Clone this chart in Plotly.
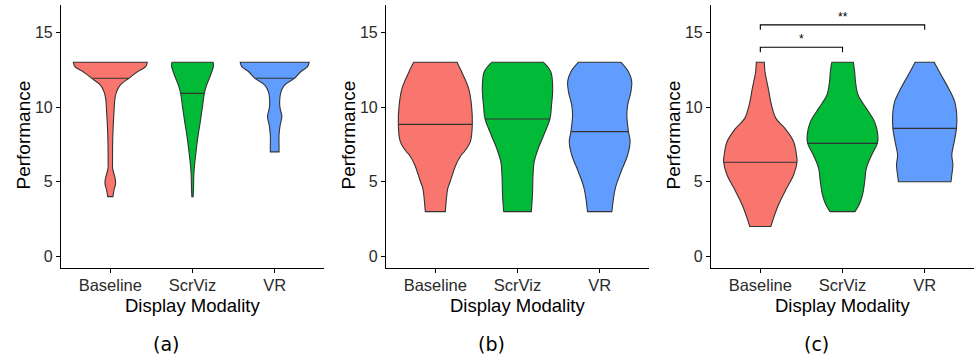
import numpy as np
import plotly.graph_objects as go

CATEGORIES = ["Baseline", "ScrViz", "VR"]
COLORS = ["#F8766D", "#00BA38", "#619CFF"]
Y_TICKS = [0, 5, 10, 15]
PANEL_LABELS = ["(a)", "(b)", "(c)"]
X_TITLE = "Display Modality"
Y_TITLE = "Performance"

# ---- Panel (a): violin density profiles (performance level -> half width, category units)
A_BASELINE_Y = [4.0, 4.44, 4.89, 5.22, 5.89, 6.34, 7.46, 8.57, 9.69, 10.58, 11.03, 11.47, 11.92, 12.36, 12.7, 13.0]
A_BASELINE_W = [0.032, 0.045, 0.065, 0.059, 0.028, 0.027, 0.028, 0.034, 0.045, 0.057, 0.077, 0.12, 0.225, 0.33, 0.43, 0.45]
A_SCRVIZ_Y = [4.0, 4.56, 5.67, 6.79, 7.9, 9.02, 10.13, 10.91, 11.47, 12.14, 12.75, 13.0]
A_SCRVIZ_W = [0.008, 0.012, 0.018, 0.0385, 0.063, 0.095, 0.124, 0.144, 0.172, 0.22, 0.255, 0.25]
A_VR_Y = [7.0, 7.46, 8.13, 8.8, 9.35, 9.91, 10.36, 11.03, 11.47, 11.92, 12.36, 12.7, 13.0]
A_VR_W = [0.053, 0.053, 0.053, 0.067, 0.087, 0.066, 0.06, 0.077, 0.12, 0.24, 0.316, 0.40, 0.42]
A_MEDIANS = [11.92, 10.91, 11.92]

# ---- Panel (b)
B_BASELINE_Y = [3.0, 3.67, 4.56, 5.0, 6.12, 6.79, 6.99, 7.68, 8.84, 10.13, 11.25, 12.36, 13.0]
B_BASELINE_W = [0.122, 0.132, 0.152, 0.18, 0.25, 0.316, 0.35, 0.426, 0.45, 0.44, 0.405, 0.32, 0.264]
B_SCRVIZ_Y = [3.0, 4.11, 5.45, 6.34, 7.23, 8.13, 9.2, 10.13, 11.25, 12.36, 13.0]
B_SCRVIZ_W = [0.168, 0.182, 0.189, 0.203, 0.253, 0.32, 0.395, 0.414, 0.428, 0.405, 0.314]
B_VR_Y = [3.0, 4.56, 5.67, 6.79, 7.68, 8.35, 9.46, 10.13, 11.03, 11.7, 12.36, 13.0]
B_VR_W = [0.148, 0.19, 0.26, 0.34, 0.37, 0.35, 0.33, 0.34, 0.38, 0.39, 0.35, 0.258]
B_MEDIANS = [8.84, 9.2, 8.35]

# ---- Panel (c)
C_BASELINE_Y = [2.0, 2.55, 3.44, 4.56, 5.45, 6.3, 6.79, 7.68, 8.57, 9.24, 10.13, 11.25, 12.36, 13.0]
C_BASELINE_W = [0.128, 0.16, 0.22, 0.32, 0.405, 0.446, 0.44, 0.405, 0.30, 0.19, 0.136, 0.097, 0.057, 0.049]
C_SCRVIZ_Y = [3.0, 3.44, 4.11, 5.0, 5.9, 6.79, 7.57, 8.13, 9.02, 9.91, 10.8, 11.7, 12.36, 13.0]
C_SCRVIZ_W = [0.152, 0.20, 0.243, 0.27, 0.29, 0.355, 0.424, 0.43, 0.39, 0.29, 0.19, 0.158, 0.148, 0.132]
C_VR_Y = [5.0, 5.45, 6.12, 6.79, 7.68, 8.57, 9.46, 10.36, 11.25, 12.14, 13.0]
C_VR_W = [0.32, 0.33, 0.343, 0.33, 0.36, 0.387, 0.39, 0.365, 0.29, 0.20, 0.116]
C_MEDIANS = [6.3, 7.57, 8.57]

# significance brackets in panel (c)
C_SIG_PAIRS = [("Baseline", "ScrViz"), ("Baseline", "VR")]
C_SIG_Y = [14.0, 15.5]
C_SIG_LABELS = ["*", "**"]
SIG_TIP = 0.33

PANELS = [
    ([(A_BASELINE_Y, A_BASELINE_W), (A_SCRVIZ_Y, A_SCRVIZ_W), (A_VR_Y, A_VR_W)], A_MEDIANS),
    ([(B_BASELINE_Y, B_BASELINE_W), (B_SCRVIZ_Y, B_SCRVIZ_W), (B_VR_Y, B_VR_W)], B_MEDIANS),
    ([(C_BASELINE_Y, C_BASELINE_W), (C_SCRVIZ_Y, C_SCRVIZ_W), (C_VR_Y, C_VR_W)], C_MEDIANS),
]

W, H = 975, 360
AXIS_LEFT_PX = [61, 386, 711]
PANEL_W_PX = 263
Y_TOP_PX, Y_BOT_PX = 5.4, 268.4
X_DOMAINS = [[l / W, (l + PANEL_W_PX) / W] for l in AXIS_LEFT_PX]
Y_DOMAIN = [1 - Y_BOT_PX / H, 1 - Y_TOP_PX / H]

OUTLINE = "#333333"
FONT = "Liberation Sans, Arial, sans-serif"

fig = go.Figure()
annotations = []

for p, (profiles, medians) in enumerate(PANELS):
    sfx = "" if p == 0 else str(p + 1)
    xa, ya = "x" + sfx, "y" + sfx
    for i, ((ys, ws), med) in enumerate(zip(profiles, medians)):
        c = i + 1
        ys = np.asarray(ys, float)
        ws = np.asarray(ws, float)
        # outline: bottom centre -> right side up -> top centre -> left side down;
        # trimmed ends are repeated so the spline keeps sharp corners / flat ends
        right_x = np.concatenate([[c + ws[0]], c + ws, [c + ws[-1]]])
        right_y = np.concatenate([[ys[0]], ys, [ys[-1]]])
        xs = np.concatenate([[c], right_x, [c], (2 * c - right_x)[::-1], [c]])
        yy = np.concatenate([[ys[0]], right_y, [ys[-1]], right_y[::-1], [ys[0]]])
        fig.add_trace(go.Scatter(
            x=xs, y=yy, mode="lines", fill="toself", fillcolor=COLORS[i],
            line=dict(color=OUTLINE, width=1.1, shape="spline", smoothing=1),
            xaxis=xa, yaxis=ya, hoverinfo="skip", showlegend=False))
        wm = float(np.interp(med, ys, ws))
        fig.add_trace(go.Scatter(
            x=[c - wm, c + wm], y=[med, med], mode="lines",
            line=dict(color=OUTLINE, width=1.1),
            xaxis=xa, yaxis=ya, hoverinfo="skip", showlegend=False))

    axis_common = dict(showline=True, linecolor="black", linewidth=1.1,
                       ticks="outside", ticklen=4, tickwidth=1.1, tickcolor="black",
                       showgrid=False, zeroline=False, fixedrange=True)
    fig.update_layout({
        "xaxis" + sfx: dict(domain=X_DOMAINS[p], range=[0.4, 3.6], tickmode="array",
                            tickvals=[1, 2, 3], ticktext=CATEGORIES, anchor=ya,
                            ticklabelstandoff=-2,
                            tickfont=dict(family=FONT, size=16.5, color="#2b2b2b"), **axis_common),
        "yaxis" + sfx: dict(domain=Y_DOMAIN, range=[-0.8, 16.8], tickmode="array",
                            tickvals=Y_TICKS, ticktext=[str(t) for t in Y_TICKS], anchor=xa,
                            tickfont=dict(family=FONT, size=16, color="#2b2b2b"), **axis_common),
    })

    left = AXIS_LEFT_PX[p]
    cx = left + PANEL_W_PX / 2
    annotations.append(dict(text=X_TITLE, x=cx / W, y=1 - 305 / H, xref="paper", yref="paper",
                            xanchor="center", yanchor="middle", showarrow=False,
                            font=dict(family=FONT, size=18.5, color="black")))
    annotations.append(dict(text=Y_TITLE, x=(left - 38.5) / W, y=1 - 135 / H, xref="paper", yref="paper",
                            xanchor="center", yanchor="middle", showarrow=False, textangle=-90,
                            font=dict(family=FONT, size=19, color="black")))
    annotations.append(dict(text=PANEL_LABELS[p], x=(left + 105) / W, y=1 - 344 / H, xref="paper", yref="paper",
                            xanchor="center", yanchor="middle", showarrow=False,
                            font=dict(family="DejaVu Sans, sans-serif", size=19, color="black")))

# significance brackets (panel c)
for (ca, cb), yv, lab in zip(C_SIG_PAIRS, C_SIG_Y, C_SIG_LABELS):
    x1 = CATEGORIES.index(ca) + 1
    x2 = CATEGORIES.index(cb) + 1
    fig.add_trace(go.Scatter(x=[x1, x1, x2, x2], y=[yv - SIG_TIP, yv, yv, yv - SIG_TIP],
                             mode="lines", line=dict(color="black", width=1.1),
                             xaxis="x3", yaxis="y3", hoverinfo="skip", showlegend=False))
    annotations.append(dict(text=lab, x=(x1 + x2) / 2, y=yv, xref="x3", yref="y3",
                            xanchor="center", yanchor="bottom", showarrow=False, yshift=-1,
                            font=dict(family=FONT, size=12, color="black")))

fig.update_layout(width=W, height=H, margin=dict(l=0, r=0, t=0, b=0),
                  plot_bgcolor="white", paper_bgcolor="white",
                  annotations=annotations, showlegend=False)

fig.write_html("out.html")
